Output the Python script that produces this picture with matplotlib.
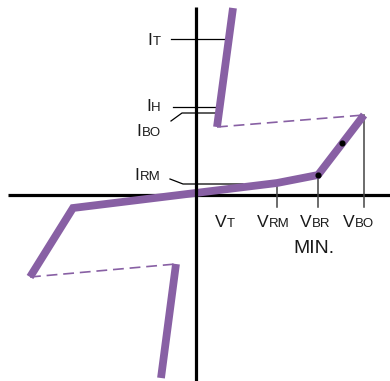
import matplotlib
matplotlib.use("Agg")
import matplotlib.pyplot as plt
from matplotlib import font_manager

# schematic I-V curve of a thyristor surge protector, drawn in picture units (px)
upper_x = [233, 217]
upper_y = [8, 127]
upper_dash_x = [217, 364]
upper_dash_y = [127, 115]
main_x = [364, 318, 277, 73, 30]
main_y = [115, 175, 183, 208, 277]
lower_dash_x = [30, 176]
lower_dash_y = [277, 264]
lower_x = [176, 161]
lower_y = [264, 378]
dots_x = [318, 342]
dots_y = [175, 143]

# current levels on the left: (main, sub, line xs, line ys)
i_labels = ["I", "I", "I", "I"]
i_subs = ["T", "H", "BO", "RM"]
i_base = [45, 111, 136, 180]
i_line_x = [[171, 226], [173, 217], [171, 182, 217], [170, 183, 243]]
i_line_y = [[39, 39], [107, 107], [121, 113, 113], [179, 184, 184]]

# voltage levels under the axis
v_subs = ["T", "RM", "BR", "BO"]
v_left = [215, 257, 300, 343]
v_tick_x = [277, 318, 364]
v_tick_top = [183, 175, 115]

purple = "#8860a4"

names = {f.name for f in font_manager.fontManager.ttflist}
fam = "Liberation Sans" if "Liberation Sans" in names else "DejaVu Sans"
plt.rcParams["font.family"] = fam

fig = plt.figure(figsize=(3.9, 3.81), dpi=100)
ax = fig.add_axes([0, 0, 1, 1])
ax.set_xlim(0, 390)
ax.set_ylim(381, 0)
ax.axis("off")

# axes
ax.plot([8, 390], [195, 195], color="black", lw=2.3, zorder=1, solid_capstyle="butt")
ax.plot([196, 196], [7, 381], color="black", lw=2.3, zorder=4, solid_capstyle="butt")

# curve
kw = dict(color=purple, lw=5.6, solid_capstyle="butt", solid_joinstyle="miter", zorder=3)
ax.plot(upper_x, upper_y, **kw)
ax.plot(main_x, main_y, **kw)
ax.plot(lower_x, lower_y, **kw)
dkw = dict(color=purple, lw=1.2, dashes=(6.5, 3.5), zorder=3)
ax.plot(upper_dash_x, upper_dash_y, **dkw)
ax.plot(lower_dash_x, lower_dash_y, **dkw)
ax.plot(dots_x, dots_y, "o", color="black", ms=3.4, zorder=5)

# leaders and ticks
for lx, ly in zip(i_line_x, i_line_y):
    ax.plot(lx, ly, color="black", lw=0.9, zorder=2)
for tx, tt in zip(v_tick_x, v_tick_top):
    ax.plot([tx, tx], [tt, 207], color="#444444", lw=1.1, zorder=2)

big, small = 12.6, 9.5
fig.canvas.draw()
r = fig.canvas.get_renderer()
inv = ax.transData.inverted()

# I labels, right aligned at x=161
for m, s, b in zip(i_labels, i_subs, i_base):
    t = ax.text(161, b, s, fontsize=small, ha="right", va="baseline", color="#1a1a1a")
    bb = t.get_window_extent(r)
    x0 = inv.transform((bb.x0, bb.y0))[0]
    ax.text(x0 - 0.5, b, m, fontsize=big, ha="right", va="baseline", color="#1a1a1a")

# V labels
for s, x in zip(v_subs, v_left):
    t = ax.text(x, 227, "V", fontsize=big, ha="left", va="baseline", color="#1a1a1a")
    bb = t.get_window_extent(r)
    x1 = inv.transform((bb.x1, bb.y0))[0]
    ax.text(x1, 227, s, fontsize=small, ha="left", va="baseline", color="#1a1a1a")

ax.text(314, 253, "MIN.", fontsize=14, ha="center", va="baseline", color="#1a1a1a")

fig.savefig("out.png", dpi=100)
